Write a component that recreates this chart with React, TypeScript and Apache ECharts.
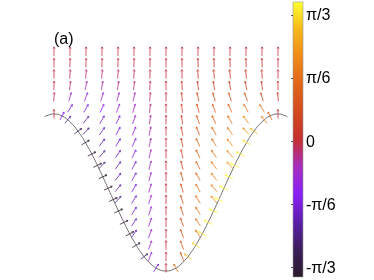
import React, { useEffect, useRef } from "react";
import * as echarts from "echarts";

// ---- data ----
// grid column positions (x) and top row index
const COL_X = [-7, -6, -5, -4, -3, -2, -1, 0, 1, 2, 3, 4, 5, 6, 7];
const ROW_TOP = 19;
// angle of each arrow (rad), per column, from the top row downward
const COL_ANGLES: number[][] = [
  [0, 0, -0.01, -0.03, -0.08],
  [0, -0.02, -0.06, -0.12, -0.28, -0.55],
  [0, -0.03, -0.09, -0.2, -0.35, -0.52, -0.66, -0.75],
  [0, -0.03, -0.09, -0.18, -0.3, -0.42, -0.52, -0.6, -0.66, -0.71, -0.76],
  [0, -0.03, -0.08, -0.16, -0.26, -0.35, -0.43, -0.49, -0.54, -0.58, -0.62, -0.65, -0.68, -0.72],
  [0, -0.02, -0.06, -0.12, -0.2, -0.27, -0.33, -0.38, -0.42, -0.45, -0.48, -0.5, -0.52, -0.54, -0.56, -0.58, -0.6],
  [0, -0.01, -0.03, -0.06, -0.09, -0.12, -0.15, -0.18, -0.2, -0.22, -0.24, -0.26, -0.28, -0.3, -0.31, -0.32, -0.33, -0.34, -0.35],
  [0, 0, 0, 0, 0, 0, 0, 0, 0, 0, 0, 0, 0, 0, 0, 0, 0, 0, 0, 0],
  [0, 0.01, 0.03, 0.06, 0.09, 0.12, 0.15, 0.18, 0.2, 0.22, 0.24, 0.26, 0.28, 0.3, 0.31, 0.32, 0.33, 0.34, 0.35],
  [0, 0.02, 0.06, 0.12, 0.2, 0.27, 0.33, 0.38, 0.42, 0.45, 0.48, 0.5, 0.52, 0.54, 0.56, 0.58, 0.6],
  [0, 0.03, 0.08, 0.16, 0.26, 0.35, 0.43, 0.49, 0.54, 0.58, 0.62, 0.65, 0.68, 0.72],
  [0, 0.03, 0.09, 0.18, 0.3, 0.42, 0.52, 0.6, 0.66, 0.71, 0.76],
  [0, 0.03, 0.09, 0.2, 0.35, 0.52, 0.66, 0.75],
  [0, 0.02, 0.06, 0.12, 0.28, 0.55],
  [0, 0, 0.01, 0.03, 0.08],
];
// arrows sitting on the boundary curve: [x, y, angle]
const EDGE_ARROWS: number[][] = [
  [-7, 13.51, 0], [-6.5, 13.33, -0.46], [-6.14, 13, -0.69], [-5.5, 12, -0.94],
  [-5.04, 11, -1.04], [-4.64, 10, -1.09], [-4.29, 9, -1.12], [-3.95, 8, -1.14],
  [-3.62, 7, -1.14], [-3.3, 6, -1.14], [-2.97, 5, -1.13], [-2.63, 4, -1.11],
  [-2.27, 3, -1.08], [-1.86, 2, -1.02], [-1.37, 1, -0.9], [-0.62, 0, -0.55],
  [7, 13.51, 0], [6.5, 13.33, 0.46], [6.14, 13, 0.69], [5.5, 12, 0.94],
  [5.04, 11, 1.04], [4.64, 10, 1.09], [4.29, 9, 1.12], [3.95, 8, 1.14],
  [3.62, 7, 1.14], [3.3, 6, 1.14], [2.97, 5, 1.13], [2.63, 4, 1.11],
  [2.27, 3, 1.08], [1.86, 2, 1.02], [1.37, 1, 0.9], [0.62, 0, 0.55],
];
// boundary curve points
const CURVE_X = [-7.6, -7.5, -7, -6.5, -6, -5.5, -5, -4.5, -4, -3.5, -3, -2.5, -2, -1.5, -1, -0.5, 0,
  0.5, 1, 1.5, 2, 2.5, 3, 3.5, 4, 4.5, 5, 5.5, 6, 6.5, 7, 7.5, 7.6];
const CURVE_Y = [13.25, 13.33, 13.51, 13.33, 12.82, 12.0, 10.91, 9.61, 8.15, 6.62, 5.09, 3.63, 2.33, 1.24, 0.42, -0.09, -0.26,
  -0.09, 0.42, 1.24, 2.33, 3.63, 5.09, 6.62, 8.15, 9.61, 10.91, 12.0, 12.82, 13.33, 13.51, 13.33, 13.25];
// colorbar
const CB_MIN = -1.13;
const CB_MAX = 1.155;
const CB_TICKS = [-Math.PI / 3, -Math.PI / 6, 0, Math.PI / 6, Math.PI / 3];
const CB_LABELS = ["-π/3", "-π/6", "0", "π/6", "π/3"];
const COLORMAP = [
  "#2a1a2a", "#3c1e5c", "#5a1fa8", "#8a20f5", "#a52ec0", "#c43030",
  "#d24a1e", "#e0651a", "#ee8a18", "#f6b71a", "#ffff30",
];

const ARROW_LEN = 9;

export default function App() {
  const ref = useRef<HTMLDivElement>(null);
  useEffect(() => {
    if (!ref.current) return;
    const chart = echarts.init(ref.current, undefined, { renderer: "svg" });

    const arrows: number[][] = [];
    COL_X.forEach((x, i) => {
      COL_ANGLES[i].forEach((a, j) => arrows.push([x, ROW_TOP - j, a]));
    });
    EDGE_ARROWS.forEach((e) => arrows.push(e));
    const curve = CURVE_X.map((x, i) => [x, CURVE_Y[i]]);

    const renderArrow = (params: any, api: any) => {
      const c = api.coord([api.value(0), api.value(1)]);
      const a = api.value(2);
      const ux = -Math.sin(a);
      const uy = -Math.cos(a);
      const h = ARROW_LEN / 2;
      const x1 = c[0] - ux * h, y1 = c[1] - uy * h;
      const x2 = c[0] + ux * h, y2 = c[1] + uy * h;
      const color = api.visual("color");
      const bl = 2, th = 0.55;
      const vx = -ux, vy = -uy;
      const b1 = [x2 + bl * (vx * Math.cos(th) - vy * Math.sin(th)), y2 + bl * (vx * Math.sin(th) + vy * Math.cos(th))];
      const b2 = [x2 + bl * (vx * Math.cos(-th) - vy * Math.sin(-th)), y2 + bl * (vx * Math.sin(-th) + vy * Math.cos(-th))];
      return {
        type: "group",
        children: [
          { type: "line", shape: { x1, y1, x2, y2 }, style: { stroke: color, lineWidth: 0.8 } },
          { type: "polyline", shape: { points: [b1, [x2, y2], b2] }, style: { stroke: color, fill: null, lineWidth: 0.7 } },
        ],
      };
    };

    const fmt = (v: number) => {
      const i = CB_TICKS.findIndex((t) => Math.abs(t - v) < 1e-6);
      return i >= 0 ? CB_LABELS[i] : "";
    };

    chart.setOption({
      animation: false,
      title: {
        text: "(a)",
        left: 54,
        top: 30,
        padding: 0,
        textStyle: { fontSize: 16, fontWeight: "normal", fontFamily: "Liberation Sans", color: "#000" },
      },
      grid: [
        { left: 42, top: 45.7, width: 248, height: 228 },
        { left: 293, top: 2, width: 10, height: 275 },
      ],
      xAxis: [
        { type: "value", gridIndex: 0, min: -7.75, max: 7.75, show: false },
        { type: "value", gridIndex: 1, min: 0, max: 1, show: false },
      ],
      yAxis: [
        { type: "value", gridIndex: 0, min: -0.5, max: 19.5, show: false },
        {
          type: "value",
          gridIndex: 1,
          min: CB_MIN,
          max: CB_MAX,
          position: "right",
          splitLine: { show: false },
          axisLine: { show: false },
          axisTick: { show: true, inside: true, length: 2, customValues: CB_TICKS, lineStyle: { color: "#555" } },
          axisLabel: {
            customValues: CB_TICKS,
            formatter: fmt,
            margin: 3,
            fontSize: 16,
            fontFamily: "Liberation Sans",
            color: "#000",
          },
        },
      ],
      visualMap: {
        type: "continuous",
        show: false,
        min: CB_MIN,
        max: CB_MAX,
        dimension: 2,
        seriesIndex: 1,
        inRange: { color: COLORMAP },
      },
      graphic: [
        {
          type: "rect",
          shape: { x: 293, y: 2, width: 10, height: 275 },
          style: {
            fill: {
              type: "linear", x: 0, y: 1, x2: 0, y2: 0,
              colorStops: COLORMAP.map((c, i) => ({ offset: i / (COLORMAP.length - 1), color: c })),
            },
            stroke: "#999",
            lineWidth: 0.6,
          },
          z: -1,
        },
      ],
      series: [
        {
          type: "line",
          xAxisIndex: 0,
          yAxisIndex: 0,
          data: curve,
          smooth: true,
          symbol: "none",
          lineStyle: { color: "#707070", width: 1 },
          z: 1,
        },
        {
          type: "custom",
          xAxisIndex: 0,
          yAxisIndex: 0,
          data: arrows,
          renderItem: renderArrow,
          encode: { x: 0, y: 1 },
          z: 2,
        },
      ],
    });
    return () => chart.dispose();
  }, []);
  return <div ref={ref} style={{ position: "fixed", left: 0, top: 0, width: 374, height: 280 }} />;
}
